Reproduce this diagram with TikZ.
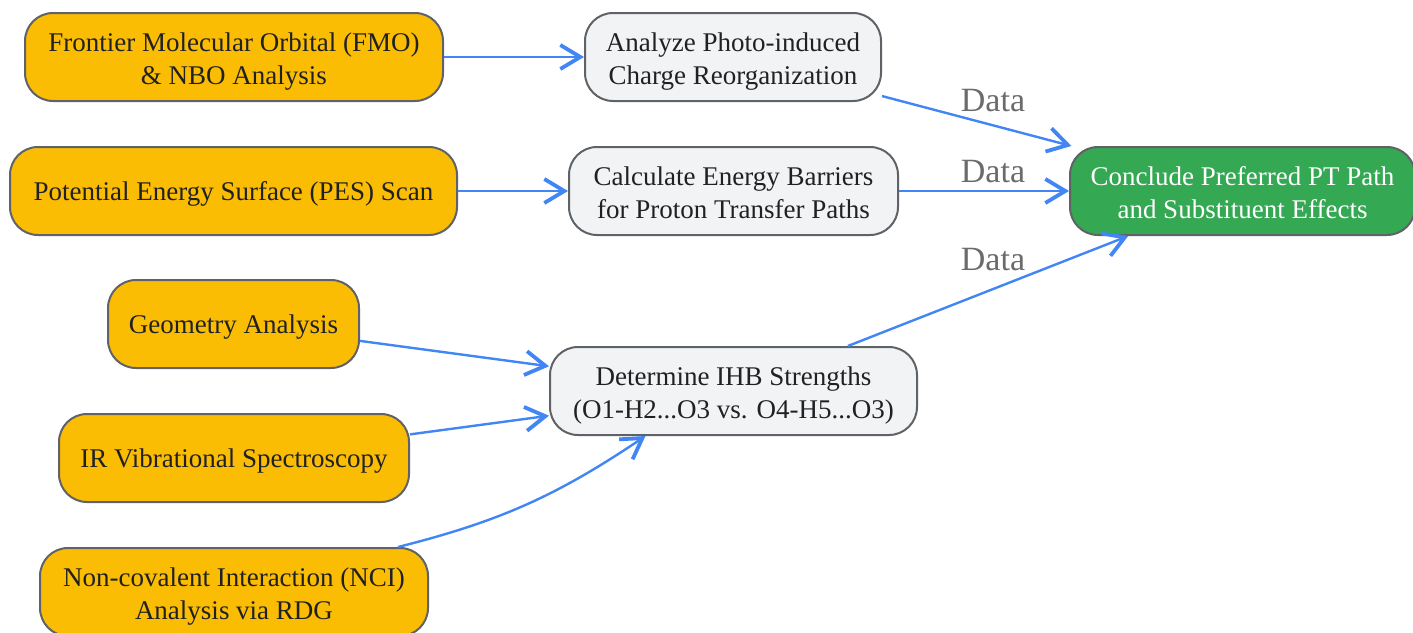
\documentclass[tikz,border=0pt]{standalone}
\usepackage{fontspec}
\setmainfont{Liberation Serif}
\usetikzlibrary{arrows.meta,bending}
\definecolor{ylw}{HTML}{FBBC04}
\definecolor{gry}{HTML}{F1F3F4}
\definecolor{grn}{HTML}{34A853}
\definecolor{bord}{HTML}{5F6368}
\definecolor{arrowblue}{HTML}{4285F4}
\definecolor{txt}{HTML}{202124}
\definecolor{lbl}{HTML}{6B6B6B}
\newcommand\twoline[2]{\raisebox{-11pt}[0pt][0pt]{\begin{tabular}{@{}c@{}}#1\\#2\end{tabular}}}
\tikzset{
  box/.style={draw=bord, line width=2pt, rounded corners=28pt, align=center,
    inner sep=0pt, minimum height=88pt, text=txt,
    font=\fontsize{27}{33}\selectfont},
  onel/.style={execute at begin node={\rule{0pt}{28pt}},
    execute at end node={\rule[-9.4pt]{0pt}{9.4pt}}},
  ybox/.style={box, fill=ylw},
  gbox/.style={box, fill=gry},
  cbox/.style={box, fill=grn, text=white},
  conn/.style={draw=arrowblue, line width=2.4pt,
    -{Straight Barb[length=20pt,width=24pt,line width=3.8pt]}},
  datalbl/.style={text=lbl, font=\fontsize{34}{38}\selectfont, inner sep=0pt}
}
\begin{document}
\begin{tikzpicture}[x=1pt,y=-1pt]
\useasboundingbox (0,0) rectangle (1413,632);
\node[ybox, minimum width=418pt] (fmo) at (234,57) {\twoline{Frontier Molecular Orbital (FMO)}{\& NBO Analysis}};
\node[gbox, minimum width=296pt] (apc) at (733,57) {\twoline{Analyze Photo-induced}{Charge Reorganization}};
\node[ybox, onel, minimum width=447pt] (pes) at (233.5,191) {Potential Energy Surface (PES) Scan};
\node[gbox, minimum width=329pt] (ceb) at (733.5,191) {\twoline{Calculate Energy Barriers}{for Proton Transfer Paths}};
\node[cbox, minimum width=345pt] (con) at (1242.5,191) {\twoline{Conclude Preferred PT Path}{and Substituent Effects}};
\node[ybox, onel, minimum width=251pt] (geo) at (233.5,324) {Geometry Analysis};
\node[ybox, onel, minimum width=350pt] (ir) at (234,458) {IR Vibrational Spectroscopy};
\node[ybox, minimum width=388pt] (nci) at (234,592) {\twoline{Non-covalent Interaction (NCI)}{Analysis via RDG}};
\node[gbox, minimum width=367pt] (ihb) at (733.5,391) {\twoline{Determine IHB Strengths}{(O1-H2...O3 vs. O4-H5...O3)}};

\draw[conn] (fmo) -- (apc);
\draw[conn] (pes) -- (ceb);
\draw[conn] (apc) -- (con);
\draw[conn] (ceb) -- (con);
\draw[conn] (ihb) -- (con);
\draw[conn] (geo) -- (ihb);
\draw[conn] (ir) -- (ihb);
\draw[conn] ([xshift=164pt]nci.north) to[bend right=10] ([xshift=-88pt]ihb.south);

\node[datalbl] (l1) at (993,101) {Data};
\node[datalbl] (l2) at (993,172) {Data};
\node[datalbl] (l3) at (993,260) {Data};
\end{tikzpicture}
\end{document}
